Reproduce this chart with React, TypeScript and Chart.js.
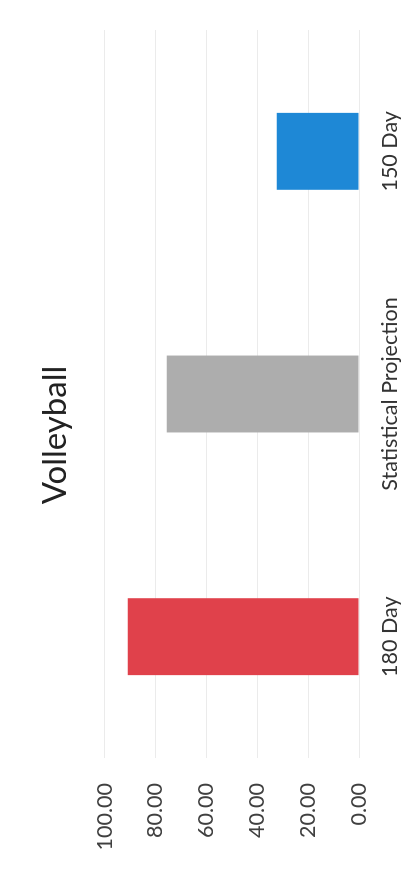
import React, { useEffect, useRef } from "react";
import { Chart, registerables } from "chart.js";
Chart.register(...registerables);

const chartTitle = "Volleyball";
const categories = ["180 Day", "Statistical Projection", "150 Day"];
const values = [90.9, 75.6, 32.3];
const barColors = ["#E0414B", "#ADADAD", "#1E88D6"];
const tickValues = [0, 20, 40, 60, 80, 100];

const W = 870;
const H = 418;
const FONT = "Lato, 'Open Sans', sans-serif";

export default function App() {
  const ref = useRef<HTMLCanvasElement>(null);
  useEffect(() => {
    const chart = new Chart(ref.current!, {
      type: "bar",
      data: {
        labels: categories,
        datasets: [
          {
            data: values,
            backgroundColor: barColors,
            categoryPercentage: 1,
            barPercentage: 0.317,
          },
        ],
      },
      options: {
        animation: false,
        responsive: false,
        maintainAspectRatio: false,
        layout: { padding: 0 },
        plugins: {
          legend: { display: false },
          tooltip: { enabled: false },
          title: {
            display: true,
            text: chartTitle,
            color: "#222",
            font: { family: FONT, size: 33, weight: "normal", lineHeight: 1.2 },
            padding: { top: 36, bottom: 29 },
          },
        },
        scales: {
          x: {
            grid: { display: false },
            border: { display: false },
            ticks: {
              color: "#333",
              font: { family: FONT, size: 21.5 },
              padding: 10,
              maxRotation: 0,
            },
            afterFit: (s: any) => {
              s.height = 59;
            },
          },
          y: {
            min: 0,
            max: 100,
            afterBuildTicks: (s: any) => {
              s.ticks = tickValues.map((v) => ({ value: v }));
            },
            ticks: {
              color: "#404040",
              font: { family: FONT, size: 21.5 },
              padding: 25,
              callback: (v: any) => Number(v).toFixed(2),
            },
            grid: { color: "#ebebeb", drawTicks: false },
            border: { display: false },
            afterFit: (s: any) => {
              s.width = 112;
            },
          },
          yRight: {
            position: "right",
            min: 0,
            max: 100,
            grid: { display: false, drawTicks: false },
            border: { display: false },
            ticks: { display: false },
            afterFit: (s: any) => {
              s.width = 30;
            },
          },
        },
      },
    });
    return () => chart.destroy();
  }, []);
  return (
    <div
      style={{
        position: "fixed",
        left: 0,
        top: W,
        width: W,
        height: H,
        transform: "rotate(-90deg)",
        transformOrigin: "0 0",
        background: "#fff",
      }}
    >
      <canvas ref={ref} width={W} height={H} style={{ width: W, height: H, display: "block" }} />
    </div>
  );
}
